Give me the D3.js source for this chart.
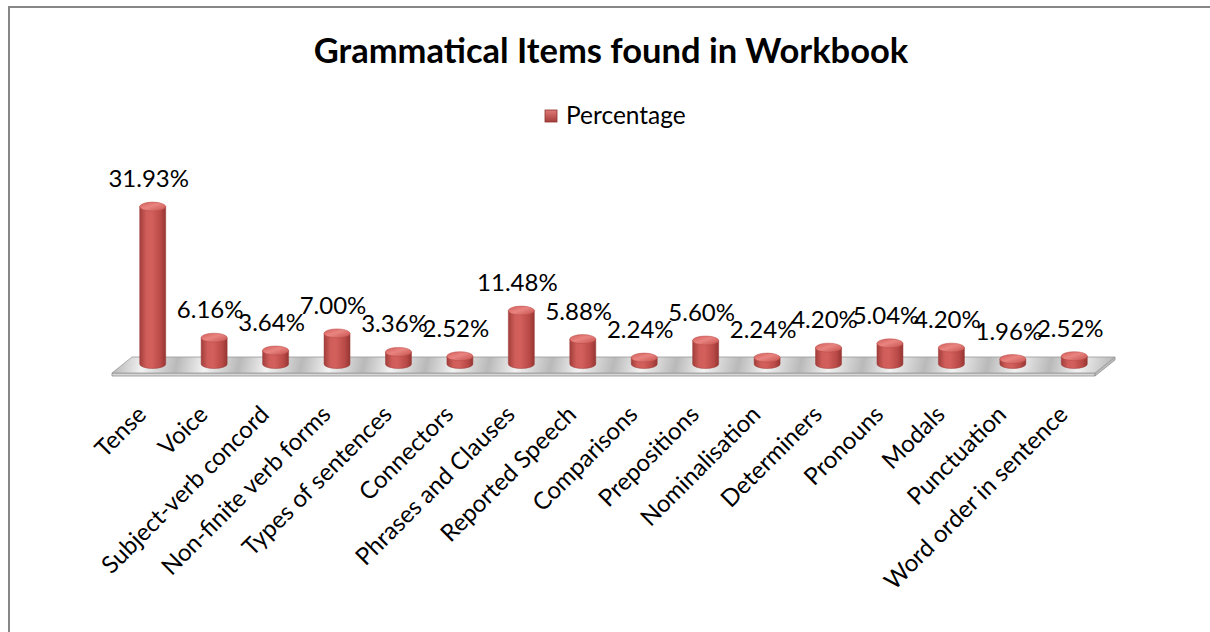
<!DOCTYPE html>
<html>
<head>
<meta charset="utf-8">
<script src="https://cdn.jsdelivr.net/npm/d3@7"></script>
<style>
  body { margin: 0; background: #fff; overflow: hidden; }
  svg { display: block; }
  text { font-family: Lato, "Open Sans", sans-serif; fill: #000; }
</style>
</head>
<body>
<div id="chart"></div>
<script>
var chartTitle = "Grammatical Items found in Workbook";
var seriesName = "Percentage";

var categories = ["Tense", "Voice", "Subject-verb concord", "Non-finite verb forms",
  "Types of sentences", "Connectors", "Phrases and Clauses", "Reported Speech",
  "Comparisons", "Prepositions", "Nominalisation", "Determiners", "Pronouns",
  "Modals", "Punctuation", "Word order in sentence"];
var values = [31.93, 6.16, 3.64, 7.00, 3.36, 2.52, 11.48, 5.88, 2.24, 5.60,
  2.24, 4.20, 5.04, 4.20, 1.96, 2.52];

var width = 1210, height = 632;
var floorFront = 373, floorBack = 357, depthX = 20;
var baseY = 364, rx = 13, ry = 4.5;

var svg = d3.select("#chart").append("svg")
  .attr("width", width)
  .attr("height", height);

var defs = svg.append("defs");

var bodyGrad = defs.append("linearGradient").attr("id", "cylBody")
  .attr("x1", "0%").attr("x2", "100%").attr("y1", "0%").attr("y2", "0%");
bodyGrad.append("stop").attr("offset", "0%").attr("stop-color", "#a23e3b");
bodyGrad.append("stop").attr("offset", "25%").attr("stop-color", "#cf5d59");
bodyGrad.append("stop").attr("offset", "45%").attr("stop-color", "#d4605c");
bodyGrad.append("stop").attr("offset", "80%").attr("stop-color", "#b94a47");
bodyGrad.append("stop").attr("offset", "100%").attr("stop-color", "#963633");

var topGrad = defs.append("linearGradient").attr("id", "cylTop")
  .attr("x1", "0%").attr("x2", "100%").attr("y1", "0%").attr("y2", "100%");
topGrad.append("stop").attr("offset", "0%").attr("stop-color", "#d25c58");
topGrad.append("stop").attr("offset", "45%").attr("stop-color", "#e98480");
topGrad.append("stop").attr("offset", "100%").attr("stop-color", "#c4504c");

var floorGrad = defs.append("linearGradient").attr("id", "floorGrad")
  .attr("gradientUnits", "userSpaceOnUse")
  .attr("x1", 0).attr("y1", 0).attr("x2", 60).attr("y2", 12)
  .attr("spreadMethod", "repeat");
floorGrad.append("stop").attr("offset", "0%").attr("stop-color", "#b9b9b9");
floorGrad.append("stop").attr("offset", "45%").attr("stop-color", "#f2f2f2");
floorGrad.append("stop").attr("offset", "100%").attr("stop-color", "#b9b9b9");

var legendGrad = defs.append("linearGradient").attr("id", "legGrad")
  .attr("x1", "0%").attr("x2", "0%").attr("y1", "0%").attr("y2", "100%");
legendGrad.append("stop").attr("offset", "0%").attr("stop-color", "#e07a76");
legendGrad.append("stop").attr("offset", "100%").attr("stop-color", "#a53e3b");

// outer frame: only the top and left edges show in the picture
svg.append("path")
  .attr("d", "M9," + height + "V7H" + width)
  .attr("fill", "none").attr("stroke", "#878787").attr("stroke-width", 2);

// title
svg.append("text")
  .attr("x", 611).attr("y", 63)
  .attr("text-anchor", "middle")
  .style("font-size", "34.5px").style("font-weight", "bold")
  .text(chartTitle);

// legend
var legend = svg.append("g").attr("transform", "translate(545,110)");
legend.append("rect").attr("width", 12).attr("height", 12)
  .attr("fill", "url(#legGrad)").attr("stroke", "#8e3330").attr("stroke-width", 0.8);
legend.append("text").attr("x", 21).attr("y", 14)
  .style("font-size", "24.5px").text(seriesName);

var x = d3.scaleBand()
  .domain(categories)
  .range([112, 1095])
  .padding(0);

var y = d3.scaleLinear()
  .domain([0, 35])
  .range([369, 191]);

// floor
var x0 = x.range()[0], x1 = x.range()[1];
svg.append("path")
  .attr("d", "M" + x0 + "," + floorFront + "L" + x1 + "," + floorFront +
    "L" + x1 + "," + (floorFront + 3) + "L" + x0 + "," + (floorFront + 3) + "Z")
  .attr("fill", "#d6d6d6").attr("stroke", "#8f8f8f").attr("stroke-width", 0.8);
svg.append("path")
  .attr("d", "M" + x1 + "," + floorFront + "L" + (x1 + depthX) + "," + floorBack +
    "L" + (x1 + depthX) + "," + (floorBack + 3) + "L" + x1 + "," + (floorFront + 3) + "Z")
  .attr("fill", "#bdbdbd").attr("stroke", "#8f8f8f").attr("stroke-width", 0.8);
svg.append("path")
  .attr("d", "M" + x0 + "," + floorFront + "L" + x1 + "," + floorFront +
    "L" + (x1 + depthX) + "," + floorBack + "L" + (x0 + depthX) + "," + floorBack + "Z")
  .attr("fill", "url(#floorGrad)").attr("stroke", "#9a9a9a").attr("stroke-width", 0.8);

// cylinders
var cx = function(d, i) { return x(categories[i]) + x.bandwidth() / 2 + depthX / 2; };

var cyl = svg.append("g").selectAll("g")
  .data(values)
  .join("g");

cyl.append("path")
  .attr("d", function(d, i) {
    var c = cx(d, i), t = y(d);
    return "M" + (c - rx) + "," + t + "L" + (c - rx) + "," + baseY +
      "A" + rx + "," + ry + " 0 0 0 " + (c + rx) + "," + baseY +
      "L" + (c + rx) + "," + t + "Z";
  })
  .attr("fill", "url(#cylBody)")
  .attr("stroke", "#9a3a37").attr("stroke-width", 0.5);

cyl.append("ellipse")
  .attr("cx", function(d, i) { return cx(d, i); })
  .attr("cy", function(d) { return y(d); })
  .attr("rx", rx).attr("ry", ry)
  .attr("fill", "url(#cylTop)")
  .attr("stroke", "#b84a46").attr("stroke-width", 0.5);

// value labels
svg.append("g").selectAll("text")
  .data(values)
  .join("text")
  .attr("x", function(d, i) { return cx(d, i) - 4; })
  .attr("y", function(d) { return y(d) - ry - 15; })
  .attr("text-anchor", "middle")
  .style("font-size", "24px")
  .text(function(d) { return d.toFixed(2) + "%"; });

// category labels
svg.append("g").selectAll("text")
  .data(categories)
  .join("text")
  .attr("text-anchor", "end")
  .style("font-size", "24px")
  .attr("transform", function(d) {
    return "translate(" + (x(d) + x.bandwidth() / 2 + 5) + ",416) rotate(-45)";
  })
  .text(function(d) { return d; });
</script>
</body>
</html>
